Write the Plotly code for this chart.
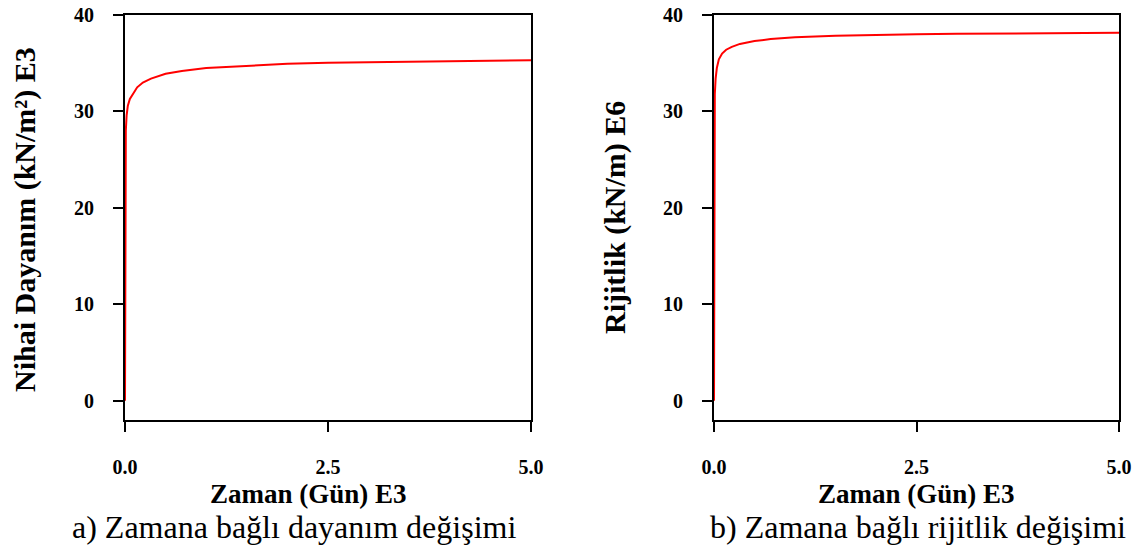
import plotly.graph_objects as go

# Data (time in E3 days)
time_e3 = [0, 0.0005, 0.002, 0.005, 0.01, 0.02, 0.035, 0.06, 0.1, 0.15, 0.22, 0.32, 0.5, 0.7, 1.0, 1.5, 2.0, 2.5, 3.0, 4.0, 5.0]
strength_e3 = [0, 14, 21, 25.5, 28.0, 29.6, 30.6, 31.3, 31.9, 32.5, 33.0, 33.4, 33.9, 34.2, 34.5, 34.75, 34.95, 35.05, 35.1, 35.2, 35.3]
stiffness_e6 = [0, 20, 26.5, 29.8, 31.8, 33.4, 34.5, 35.4, 36.0, 36.4, 36.7, 37.0, 37.3, 37.5, 37.7, 37.85, 37.95, 38.0, 38.05, 38.1, 38.15]

x_ticks = [0, 2.5, 5.0]
x_tick_labels = ["0.0", "2.5", "5.0"]
y_ticks = [0, 10, 20, 30, 40]
y_tick_labels = ["0", "10", "20", "30", "40"]

x_title = "Zaman (Gün) E3"
y_title_a = "Nihai Dayanım (kN/m²) E3"
y_title_b = "Rijitlik (kN/m) E6"
caption_a = "a) Zamana bağlı dayanım değişimi"
caption_b = "b) Zamana bağlı rijitlik değişimi"

W, H = 1145, 551
FONT = "Liberation Serif"

fig = go.Figure()
fig.add_trace(go.Scatter(x=time_e3, y=strength_e3, mode="lines",
                         line=dict(color="#ff0000", width=2), xaxis="x", yaxis="y", showlegend=False))
fig.add_trace(go.Scatter(x=time_e3, y=stiffness_e6, mode="lines",
                         line=dict(color="#ff0000", width=2), xaxis="x2", yaxis="y2", showlegend=False))

def px(x):
    return x / W

def py(y):
    return 1 - y / H

def xax(l, r, anchor):
    return dict(domain=[px(l), px(r)], anchor=anchor, range=[0, 5], tickvals=x_ticks, ticktext=x_tick_labels,
                ticks="outside", ticklen=10, tickwidth=2, tickcolor="black",
                showline=True, linecolor="black", linewidth=2, mirror=True, automargin=False,
                showgrid=False, zeroline=False, ticklabelstandoff=18,
                tickfont=dict(family=FONT, size=20, color="black", weight="bold"))

def yax(anchor):
    return dict(domain=[py(420), py(15)], anchor=anchor, range=[-2, 40],
                tickvals=y_ticks, ticktext=y_tick_labels,
                ticks="outside", ticklen=10, tickwidth=2, tickcolor="black",
                showline=True, linecolor="black", linewidth=2, mirror=True, automargin=False,
                showgrid=False, zeroline=False, ticklabelstandoff=15,
                tickfont=dict(family=FONT, size=20, color="black", weight="bold"))

fig.update_layout(
    width=W, height=H, margin=dict(l=0, r=0, t=0, b=0, autoexpand=False),
    paper_bgcolor="white", plot_bgcolor="white",
    xaxis=xax(125, 531, "y"),
    yaxis=yax("x"),
    xaxis2=xax(714, 1119, "y2"),
    yaxis2=yax("x2"),
)

def ann(text, x, y, size, bold, angle=0):
    fig.add_annotation(text=text, xref="paper", yref="paper", x=px(x), y=py(y),
                       xanchor="center", yanchor="middle", showarrow=False, textangle=angle,
                       font=dict(family=FONT, size=size, color="black", weight="bold" if bold else "normal"))

ann(x_title, 308, 494, 27, True)
ann(x_title, 916, 494, 27, True)
ann(y_title_a, 25, 220, 30, True, -90)
ann(y_title_b, 615, 218, 30, True, -90)
ann(caption_a, 294, 527, 32, False)
ann(caption_b, 918, 527, 32, False)

fig.write_html("out.html", config={"displayModeBar": False},
               post_script="document.body.style.margin='0px';")
